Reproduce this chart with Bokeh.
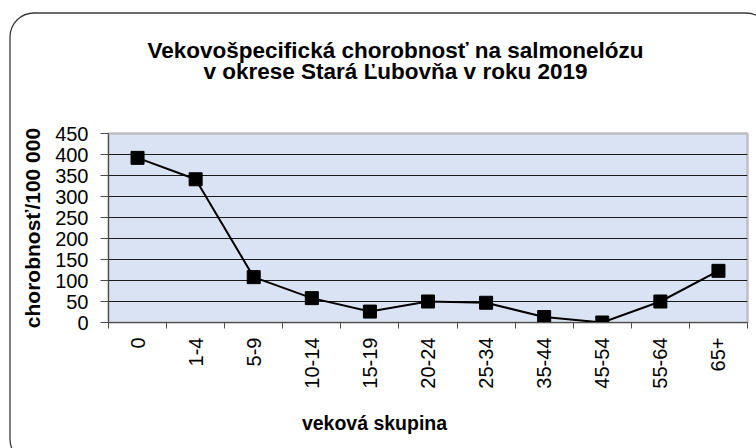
import math
from bokeh.plotting import figure
from bokeh.models import FixedTicker, Range1d, Label
from bokeh.embed import file_html
from bokeh.resources import INLINE

# ---- data ----
age_groups = ["0", "1-4", "5-9", "10-14", "15-19", "20-24", "25-34", "35-44", "45-54", "55-64", "65+"]
morbidity = [392, 341, 108, 58, 26, 50, 47, 13, 0, 50, 123]
y_ticks = [0, 50, 100, 150, 200, 250, 300, 350, 400, 450]
title_lines = ["Vekovošpecifická chorobnosť na salmonelózu", "v okrese Stará Ľubovňa v roku 2019"]
x_title = "veková skupina"
y_title = "chorobnosť/100 000"

FONT = "Liberation Sans"
n = len(age_groups)
x_centers = [i + 0.5 for i in range(n)]
boundaries = list(range(n + 1))

p = figure(width=756, height=448, output_backend="svg", toolbar_location=None,
           x_range=Range1d(0, n), y_range=Range1d(y_ticks[0], y_ticks[-1]),
           min_border_left=108, min_border_right=9, min_border_top=133, min_border_bottom=126)
p.background_fill_color = "#dae3f3"
p.border_fill_color = None
p.outline_line_color = "#bfbfbf"
p.outline_line_width = 2.5

# rounded chart-area border behind the transparent canvas
border_svg = ("data:image/svg+xml;utf8,<svg xmlns='http://www.w3.org/2000/svg' width='756' height='448'>"
              "<rect x='10' y='13' width='760' height='450' rx='24' ry='24' fill='white' "
              "stroke='%233a3a3a' stroke-width='1.3'/></svg>")
p.styles = {"background-image": f"url(\"{border_svg}\")", "background-repeat": "no-repeat"}

# chart title: two centred lines in the panel above the plot area
p.add_layout(Label(x=287, y=50, x_units="screen", y_units="screen", text="\n".join(title_lines),
                   text_align="center", text_baseline="bottom", text_line_height=0.815,
                   text_font=FONT, text_font_size="22.5px", text_font_style="bold",
                   text_color="black"), "above")

p.xgrid.visible = False
p.ygrid.ticker = FixedTicker(ticks=y_ticks[:-1])
p.ygrid.grid_line_color = "#1a1a1a"
p.ygrid.grid_line_width = 1

AX = "#4d4d4d"
ya = p.yaxis[0]
ya.ticker = FixedTicker(ticks=y_ticks)
ya.axis_line_color = AX
ya.major_tick_line_color = AX
ya.major_tick_out = 8
ya.major_tick_in = 0
ya.minor_tick_line_color = None
ya.major_label_standoff = 12
ya.major_label_text_font = FONT
ya.major_label_text_font_size = "20px"
ya.major_label_text_color = "black"
ya.axis_label = y_title
ya.axis_label_text_font = FONT
ya.axis_label_text_font_size = "21px"
ya.axis_label_text_font_style = "bold"
ya.axis_label_text_color = "black"
ya.axis_label_standoff = 8

xa = p.xaxis[0]
xa.ticker = FixedTicker(ticks=x_centers, minor_ticks=boundaries)
xa.major_label_overrides = {c: g for c, g in zip(x_centers, age_groups)}
xa.major_label_orientation = math.pi / 2
xa.axis_line_color = AX
xa.major_tick_out = 0
xa.major_tick_in = 0
xa.major_tick_line_color = None
xa.minor_tick_line_color = AX
xa.minor_tick_out = 6
xa.minor_tick_in = 0
xa.major_label_standoff = 9
xa.major_label_text_font = FONT
xa.major_label_text_font_size = "20px"
xa.major_label_text_color = "black"

# x axis title in the panel below the axis
p.add_layout(Label(x=266, y=2, x_units="screen", y_units="screen", text=x_title,
                   text_align="center", text_baseline="top",
                   text_font=FONT, text_font_size="19.5px", text_font_style="bold",
                   text_color="black"), "below")

p.line(x_centers, morbidity, line_color="black", line_width=2)
p.scatter(x_centers, morbidity, marker="square", size=13, fill_color="black", line_color="black")

open("out.html", "w").write(file_html(p, INLINE))
